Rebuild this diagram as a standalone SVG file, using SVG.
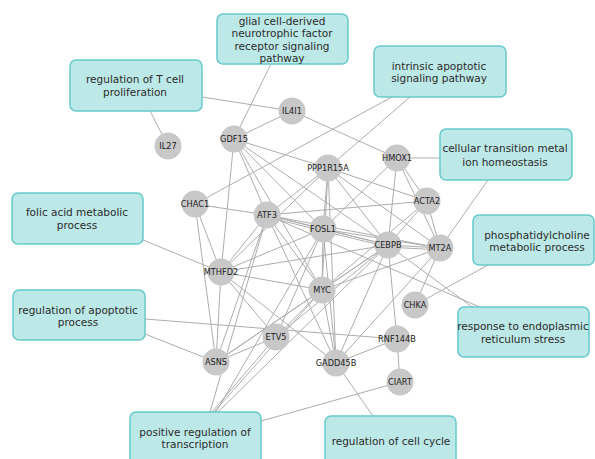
<svg xmlns="http://www.w3.org/2000/svg" width="595" height="459" viewBox="0 0 595 459">
<style>
.bg{fill:#ffffff}
.e line{stroke:#adadad;stroke-width:1}
.box rect{fill:#bde8e8;stroke:#66caca;stroke-width:1.5}
.box text{font-family:"DejaVu Sans",sans-serif;font-size:10.5px;fill:#2b2b2b;text-anchor:middle}
.n circle{fill:#c8c8c8}
.n text{font-family:"DejaVu Sans",sans-serif;font-size:8.2px;fill:#222;text-anchor:middle}
</style>
<rect class="bg" x="0" y="0" width="595" height="459"/>
<g id="connectors" class="e">
<line x1="150" y1="111" x2="168" y2="146"/>
<line x1="202" y1="97" x2="292" y2="111"/>
<line x1="271" y1="64" x2="234" y2="139"/>
<line x1="392" y1="97" x2="195" y2="204"/>
<line x1="410" y1="97" x2="328" y2="168"/>
<line x1="440" y1="158" x2="397" y2="158"/>
<line x1="488" y1="180" x2="440" y2="248"/>
<line x1="488" y1="265" x2="415" y2="305"/>
<line x1="472" y1="307" x2="388" y2="245"/>
<line x1="482" y1="308" x2="267" y2="215"/>
<line x1="145" y1="319" x2="397" y2="339"/>
<line x1="145" y1="334" x2="216" y2="362"/>
<line x1="143" y1="240" x2="221" y2="272"/>
<line x1="212" y1="412" x2="276" y2="337"/>
<line x1="214" y1="412" x2="322" y2="290"/>
<line x1="216" y1="412" x2="323" y2="229"/>
<line x1="218" y1="412" x2="388" y2="245"/>
<line x1="210" y1="412" x2="267" y2="215"/>
<line x1="261" y1="421" x2="400" y2="382"/>
<line x1="373" y1="416" x2="336" y2="363"/>
<line x1="234" y1="139" x2="292" y2="111"/>
<line x1="234" y1="139" x2="328" y2="168"/>
<line x1="234" y1="139" x2="267" y2="215"/>
<line x1="234" y1="139" x2="323" y2="229"/>
<line x1="234" y1="139" x2="388" y2="245"/>
<line x1="234" y1="139" x2="322" y2="290"/>
<line x1="234" y1="139" x2="221" y2="272"/>
<line x1="292" y1="111" x2="397" y2="158"/>
<line x1="195" y1="204" x2="267" y2="215"/>
<line x1="195" y1="204" x2="221" y2="272"/>
<line x1="195" y1="204" x2="216" y2="362"/>
<line x1="267" y1="215" x2="323" y2="229"/>
<line x1="267" y1="217" x2="323" y2="231"/>
<line x1="267" y1="215" x2="388" y2="245"/>
<line x1="267" y1="215" x2="322" y2="290"/>
<line x1="267" y1="215" x2="221" y2="272"/>
<line x1="267" y1="215" x2="216" y2="362"/>
<line x1="267" y1="215" x2="336" y2="363"/>
<line x1="267" y1="215" x2="328" y2="168"/>
<line x1="267" y1="215" x2="440" y2="248"/>
<line x1="267" y1="215" x2="427" y2="201"/>
<line x1="328" y1="168" x2="323" y2="229"/>
<line x1="328" y1="168" x2="322" y2="290"/>
<line x1="328" y1="168" x2="336" y2="363"/>
<line x1="328" y1="168" x2="388" y2="245"/>
<line x1="328" y1="168" x2="427" y2="201"/>
<line x1="328" y1="168" x2="440" y2="248"/>
<line x1="328" y1="168" x2="221" y2="272"/>
<line x1="397" y1="158" x2="427" y2="201"/>
<line x1="397" y1="158" x2="440" y2="248"/>
<line x1="397" y1="158" x2="388" y2="245"/>
<line x1="397" y1="158" x2="323" y2="229"/>
<line x1="427" y1="201" x2="440" y2="248"/>
<line x1="427" y1="201" x2="388" y2="245"/>
<line x1="427" y1="201" x2="322" y2="290"/>
<line x1="323" y1="229" x2="388" y2="245"/>
<line x1="323" y1="231" x2="388" y2="247"/>
<line x1="323" y1="229" x2="322" y2="290"/>
<line x1="323" y1="229" x2="336" y2="363"/>
<line x1="323" y1="229" x2="221" y2="272"/>
<line x1="323" y1="229" x2="276" y2="337"/>
<line x1="323" y1="229" x2="440" y2="248"/>
<line x1="388" y1="245" x2="440" y2="248"/>
<line x1="388" y1="247" x2="440" y2="250"/>
<line x1="388" y1="245" x2="322" y2="290"/>
<line x1="388" y1="245" x2="336" y2="363"/>
<line x1="388" y1="245" x2="397" y2="339"/>
<line x1="388" y1="245" x2="221" y2="272"/>
<line x1="388" y1="245" x2="276" y2="337"/>
<line x1="388" y1="245" x2="216" y2="362"/>
<line x1="440" y1="248" x2="415" y2="305"/>
<line x1="440" y1="248" x2="336" y2="363"/>
<line x1="440" y1="248" x2="322" y2="290"/>
<line x1="322" y1="290" x2="336" y2="363"/>
<line x1="322" y1="290" x2="276" y2="337"/>
<line x1="322" y1="290" x2="216" y2="362"/>
<line x1="322" y1="290" x2="221" y2="272"/>
<line x1="221" y1="272" x2="216" y2="362"/>
<line x1="221" y1="272" x2="336" y2="363"/>
<line x1="221" y1="272" x2="276" y2="337"/>
<line x1="276" y1="337" x2="216" y2="362"/>
<line x1="397" y1="339" x2="400" y2="382"/>
<line x1="397" y1="339" x2="336" y2="363"/>
</g>
<g id="box-tcell" class="box"><rect x="70" y="60" width="132" height="51" rx="6"/><text x="135" y="83">regulation of T cell</text><text x="135" y="96">proliferation</text></g>
<g id="box-glial" class="box"><rect x="217" y="14" width="131" height="50" rx="6"/><text x="282" y="25">glial cell-derived</text><text x="282" y="37">neurotrophic factor</text><text x="282" y="50">receptor signaling</text><text x="282" y="62">pathway</text></g>
<g id="box-intrinsic" class="box"><rect x="374" y="46" width="132" height="51" rx="6"/><text x="439" y="70">intrinsic apoptotic</text><text x="439" y="82">signaling pathway</text></g>
<g id="box-metal" class="box"><rect x="440" y="129" width="132" height="51" rx="6"/><text x="505" y="152">cellular transition metal</text><text x="505" y="166">ion homeostasis</text></g>
<g id="box-folic" class="box"><rect x="12" y="193" width="131" height="51" rx="6"/><text x="77" y="216">folic acid metabolic</text><text x="77" y="229">process</text></g>
<g id="box-phospho" class="box"><rect x="473" y="215" width="121" height="50" rx="6"/><text x="537" y="239">phosphatidylcholine</text><text x="537" y="251">metabolic process</text></g>
<g id="box-apoptotic" class="box"><rect x="13" y="290" width="132" height="50" rx="6"/><text x="78" y="314">regulation of apoptotic</text><text x="78" y="326">process</text></g>
<g id="box-er" class="box"><rect x="458" y="307" width="131" height="50" rx="6"/><text x="523" y="330">response to endoplasmic</text><text x="523" y="343">reticulum stress</text></g>
<g id="box-transcription" class="box"><rect x="130" y="412" width="131" height="56" rx="6"/><text x="195" y="436">positive regulation of</text><text x="195" y="448">transcription</text></g>
<g id="box-cellcycle" class="box"><rect x="325" y="416" width="131" height="52" rx="6"/><text x="391" y="445">regulation of cell cycle</text></g>
<g id="n-IL4I1" class="n"><circle cx="292" cy="111" r="13.5"/><text x="292" y="114">IL4I1</text></g>
<g id="n-GDF15" class="n"><circle cx="234" cy="139" r="13.5"/><text x="234" y="142">GDF15</text></g>
<g id="n-IL27" class="n"><circle cx="168" cy="146" r="13.5"/><text x="168" y="149">IL27</text></g>
<g id="n-PPP1R15A" class="n"><circle cx="328" cy="168" r="13.5"/><text x="328" y="171">PPP1R15A</text></g>
<g id="n-HMOX1" class="n"><circle cx="397" cy="158" r="13.5"/><text x="397" y="161">HMOX1</text></g>
<g id="n-CHAC1" class="n"><circle cx="195" cy="204" r="13.5"/><text x="195" y="207">CHAC1</text></g>
<g id="n-ATF3" class="n"><circle cx="267" cy="215" r="13.5"/><text x="267" y="218">ATF3</text></g>
<g id="n-ACTA2" class="n"><circle cx="427" cy="201" r="13.5"/><text x="427" y="204">ACTA2</text></g>
<g id="n-FOSL1" class="n"><circle cx="323" cy="229" r="13.5"/><text x="323" y="232">FOSL1</text></g>
<g id="n-CEBPB" class="n"><circle cx="388" cy="245" r="13.5"/><text x="388" y="248">CEBPB</text></g>
<g id="n-MT2A" class="n"><circle cx="440" cy="248" r="13.5"/><text x="440" y="251">MT2A</text></g>
<g id="n-MTHFD2" class="n"><circle cx="221" cy="272" r="13.5"/><text x="221" y="275">MTHFD2</text></g>
<g id="n-MYC" class="n"><circle cx="322" cy="290" r="13.5"/><text x="322" y="293">MYC</text></g>
<g id="n-CHKA" class="n"><circle cx="415" cy="305" r="13.5"/><text x="415" y="308">CHKA</text></g>
<g id="n-ETV5" class="n"><circle cx="276" cy="337" r="13.5"/><text x="276" y="340">ETV5</text></g>
<g id="n-RNF144B" class="n"><circle cx="397" cy="339" r="13.5"/><text x="397" y="342">RNF144B</text></g>
<g id="n-ASNS" class="n"><circle cx="216" cy="362" r="13.5"/><text x="216" y="365">ASNS</text></g>
<g id="n-GADD45B" class="n"><circle cx="336" cy="363" r="13.5"/><text x="336" y="366">GADD45B</text></g>
<g id="n-CIART" class="n"><circle cx="400" cy="382" r="13.5"/><text x="400" y="385">CIART</text></g>
</svg>
